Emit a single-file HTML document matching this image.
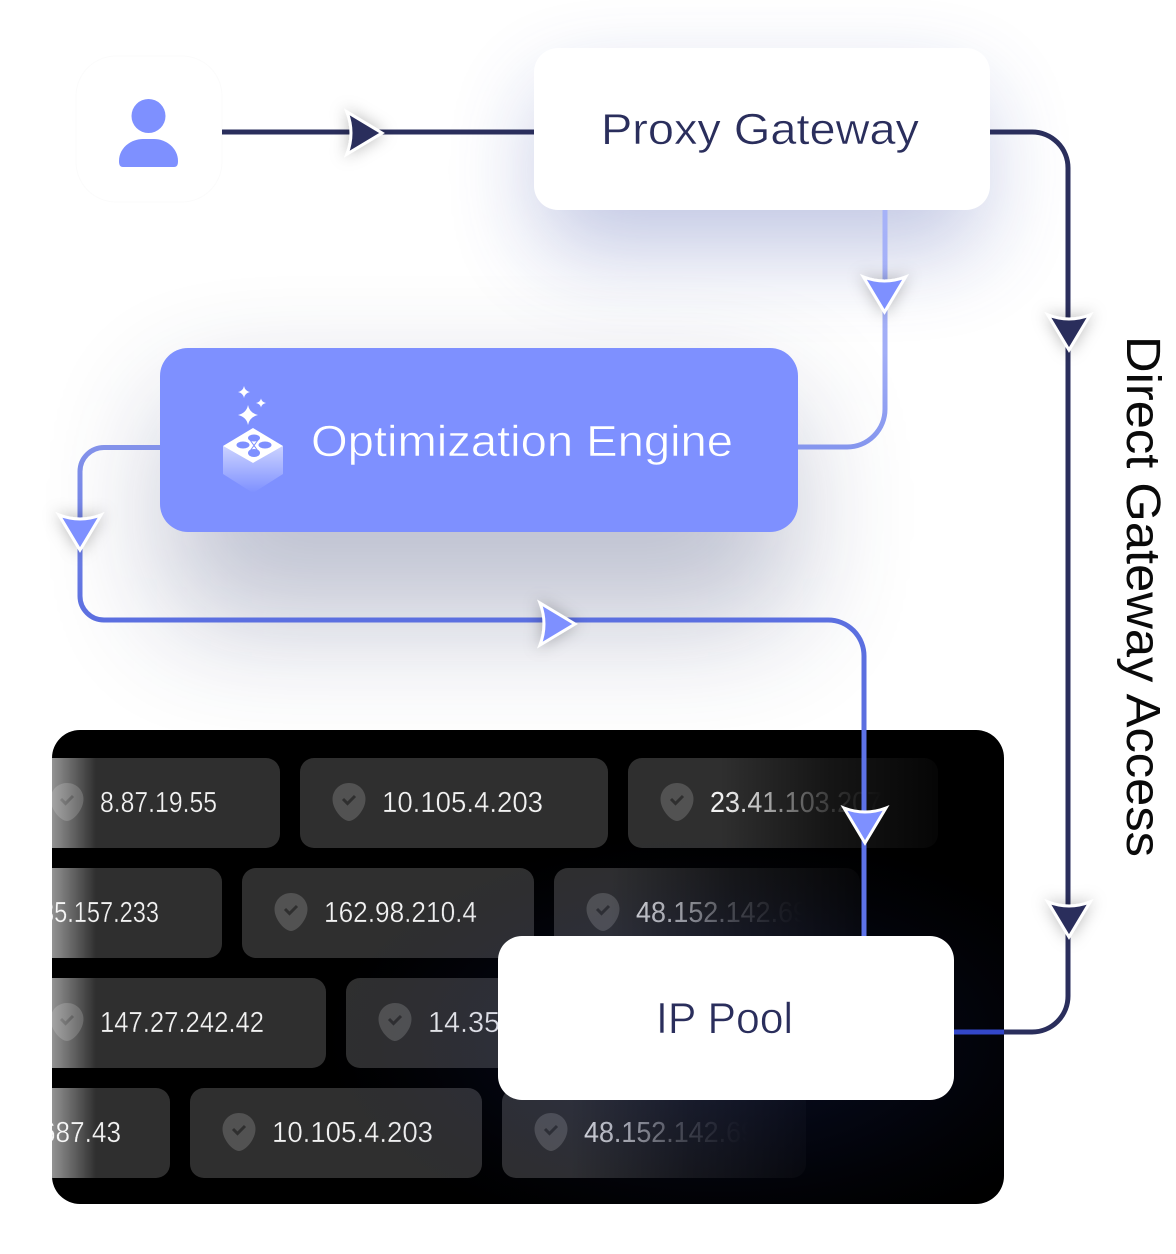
<!DOCTYPE html>
<html><head><meta charset="utf-8"><style>
html,body{margin:0;padding:0;background:#fff;width:1176px;height:1254px;overflow:hidden}
svg{display:block}
text{font-family:"Liberation Sans",sans-serif}
.chip{font-size:29px;fill:#f2f2f2}
.thin{stroke:#2f2f2f;stroke-width:.35}
</style></head><body>
<svg width="1176" height="1254" viewBox="0 0 1176 1254" xmlns="http://www.w3.org/2000/svg">
<defs>
<filter id="b1" x="-60%" y="-150%" width="220%" height="400%"><feGaussianBlur stdDeviation="46"/></filter>
<filter id="b2" x="-60%" y="-150%" width="220%" height="400%"><feGaussianBlur stdDeviation="62"/></filter>
<filter id="as" x="-100%" y="-100%" width="300%" height="300%"><feDropShadow dx="0" dy="0" stdDeviation="8" flood-color="#000" flood-opacity=".28"/></filter>
<clipPath id="panel"><rect x="52" y="730" width="952" height="474" rx="28"/></clipPath>
<linearGradient id="fadeL"><stop offset="0" stop-color="#fff" stop-opacity=".48"/><stop offset="1" stop-color="#fff" stop-opacity="0"/></linearGradient>
<linearGradient id="fadeR"><stop offset="0" stop-color="#000" stop-opacity="0"/><stop offset=".5" stop-color="#000" stop-opacity=".55"/><stop offset="1" stop-color="#000" stop-opacity=".88"/></linearGradient>
<linearGradient id="t1" gradientUnits="userSpaceOnUse" x1="755" y1="0" x2="885" y2="0"><stop offset="0" stop-color="#f2f2f2"/><stop offset="1" stop-color="#f2f2f2" stop-opacity="0"/></linearGradient>
<linearGradient id="t2" gradientUnits="userSpaceOnUse" x1="685" y1="0" x2="803" y2="0"><stop offset="0" stop-color="#f2f2f2"/><stop offset="1" stop-color="#f2f2f2" stop-opacity="0"/></linearGradient>
<linearGradient id="t4" gradientUnits="userSpaceOnUse" x1="630" y1="0" x2="748" y2="0"><stop offset="0" stop-color="#f2f2f2"/><stop offset="1" stop-color="#f2f2f2" stop-opacity="0"/></linearGradient>
<linearGradient id="lil" gradientUnits="userSpaceOnUse" x1="0" y1="210" x2="0" y2="447"><stop offset="0" stop-color="#a6b2f8"/><stop offset=".6" stop-color="#a2aef7"/><stop offset="1" stop-color="#8596ee"/></linearGradient>
<linearGradient id="lef" gradientUnits="userSpaceOnUse" x1="0" y1="447" x2="0" y2="620"><stop offset="0" stop-color="#8392ea"/><stop offset="1" stop-color="#5b6fe0"/></linearGradient>
<linearGradient id="cube" x1="0" y1="0" x2="0" y2="1"><stop offset="0" stop-color="#fff" stop-opacity=".6"/><stop offset="1" stop-color="#fff" stop-opacity="0"/></linearGradient>
<radialGradient id="glow"><stop offset="0" stop-color="#3048b0" stop-opacity=".24"/><stop offset=".6" stop-color="#1c2c80" stop-opacity=".1"/><stop offset="1" stop-color="#101840" stop-opacity="0"/></radialGradient>
<g id="sh"><path d="M0,-19C10,-19 16.5,-11 16.5,-3C16.5,8 6,19 0,19C-6,19 -16.5,8 -16.5,-3C-16.5,-11 -10,-19 0,-19Z" fill="#525252"/><path d="M-6,-3L-1.5,1.5L6,-6" fill="none" stroke="#2f2f2f" stroke-width="3"/></g>
<path id="arr" d="M0,-3L-21,-38Q0,-30 21,-38Z" stroke="#fff" stroke-width="3" stroke-miterlimit="12"/>
</defs>

<rect x="540" y="90" width="440" height="160" rx="30" fill="#3d4fa8" opacity=".32" filter="url(#b1)"/>
<rect x="170" y="400" width="620" height="220" rx="30" fill="#2c3468" opacity=".3" filter="url(#b2)"/>

<!-- user card -->
<rect x="76" y="56" width="146" height="146" rx="40" fill="#fff" stroke="#fbfbfb"/>
<circle cx="148.500" cy="116" r="17" fill="#7e90ff"/>
<path d="M119,161C119,148 131,139 143,139H154C166,139 178,148 178,161C178,165 177,167 174,167H123C120,167 119,165 119,161Z" fill="#7e90ff"/>

<!-- dark panel -->
<rect x="52" y="730" width="952" height="474" rx="28" fill="#000"/>
<g clip-path="url(#panel)">
<g fill="#2f2f2f">
<rect x="20" y="758" width="260" height="90" rx="14"/>
<rect x="300" y="758" width="308" height="90" rx="14"/>
<rect x="628" y="758" width="310" height="90" rx="14"/>
<rect x="0" y="868" width="222" height="90" rx="14"/>
<rect x="242" y="868" width="292" height="90" rx="14"/>
<rect x="554" y="868" width="306" height="90" rx="14"/>
<rect x="0" y="978" width="326" height="90" rx="14"/>
<rect x="346" y="978" width="300" height="90" rx="14"/>
<rect x="0" y="1088" width="170" height="90" rx="14"/>
<rect x="190" y="1088" width="292" height="90" rx="14"/>
<rect x="502" y="1088" width="304" height="90" rx="14"/>
</g>
<use href="#sh" x="67" y="802"/><use href="#sh" x="349" y="802"/><use href="#sh" x="677" y="802"/>
<use href="#sh" x="291" y="912"/><use href="#sh" x="603" y="912"/>
<use href="#sh" x="67" y="1022"/><use href="#sh" x="395" y="1022"/>
<use href="#sh" x="239" y="1132"/><use href="#sh" x="551" y="1132"/>
<text class="chip thin" x="100" y="812" textLength="117" lengthAdjust="spacingAndGlyphs">8.87.19.55</text>
<text class="chip thin" x="382" y="812" textLength="161" lengthAdjust="spacingAndGlyphs">10.105.4.203</text>
<text class="chip" style="fill:url(#t1)" x="710" y="812" textLength="172" lengthAdjust="spacingAndGlyphs">23.41.103.207</text>
<text class="chip thin" x="41" y="922" textLength="118" lengthAdjust="spacingAndGlyphs">35.157.233</text>
<text class="chip thin" x="324" y="922" textLength="153" lengthAdjust="spacingAndGlyphs">162.98.210.4</text>
<text class="chip" style="fill:url(#t2)" x="636" y="922" textLength="172" lengthAdjust="spacingAndGlyphs">48.152.142.69</text>
<text class="chip thin" x="100" y="1032" textLength="164" lengthAdjust="spacingAndGlyphs">147.27.242.42</text>
<text class="chip thin" x="428" y="1032" textLength="168" lengthAdjust="spacingAndGlyphs">14.35.120.87</text>
<text class="chip thin" x="41" y="1142" textLength="80" lengthAdjust="spacingAndGlyphs">687.43</text>
<text class="chip thin" x="272" y="1142" textLength="161" lengthAdjust="spacingAndGlyphs">10.105.4.203</text>
<text class="chip" style="fill:url(#t4)" x="584" y="1142" textLength="172" lengthAdjust="spacingAndGlyphs">48.152.142.69</text>
<rect x="52" y="758" width="44" height="90" fill="url(#fadeL)"/>
<rect x="52" y="868" width="44" height="90" fill="url(#fadeL)"/>
<rect x="52" y="978" width="44" height="90" fill="url(#fadeL)"/>
<rect x="52" y="1088" width="44" height="90" fill="url(#fadeL)"/>
<rect x="720" y="758" width="218" height="90" fill="url(#fadeR)"/>
<rect x="610" y="868" width="250" height="90" fill="url(#fadeR)"/>
<rect x="570" y="1088" width="236" height="90" fill="url(#fadeR)"/>
<ellipse cx="720" cy="1040" rx="400" ry="210" fill="url(#glow)"/>
</g>

<!-- connectors -->
<g fill="none" stroke-width="5">
<path d="M222,132H534" stroke="#2a2e5c"/>
<path d="M990,132H1032A36,36 0 0 1 1068,168V996A36,36 0 0 1 1032,1032H1004" stroke="#2a2e5c"/>
<path d="M1004,1032H954" stroke="#3347c9"/>
<path d="M885,210V409A38,38 0 0 1 847,447H798" stroke="url(#lil)"/>
<path d="M160,447.500H104A24,24 0 0 0 80,471.500V596A24,24 0 0 0 104,620H828A36,36 0 0 1 864,656V936" stroke="url(#lef)"/>
<path d="M864,730V936" stroke="#5d72e8"/>
</g>

<!-- nodes -->
<rect x="534" y="48" width="456" height="162" rx="24" fill="#fff"/>
<rect x="160" y="348" width="638" height="184" rx="28" fill="#7e90ff"/>
<rect x="498" y="936" width="456" height="164" rx="24" fill="#fff"/>

<text x="601" y="144" font-size="44" fill="#2a2e5c" stroke="#fff" stroke-width=".5" textLength="318" lengthAdjust="spacingAndGlyphs">Proxy Gateway</text>
<text x="311" y="456" font-size="44" fill="#fff" stroke="#7e90ff" stroke-width=".6" textLength="422" lengthAdjust="spacingAndGlyphs">Optimization Engine</text>
<text x="656" y="1033" font-size="44" fill="#2a2e5c" stroke="#fff" stroke-width=".6" textLength="137" lengthAdjust="spacingAndGlyphs">IP Pool</text>
<text transform="translate(1127,336) rotate(90)" font-size="48" fill="#0a0a0a" textLength="521" lengthAdjust="spacingAndGlyphs">Direct Gateway Access</text>

<!-- cube icon -->
<path d="M223,446L253,463L283,446V474L253,493L223,474Z" fill="url(#cube)"/>
<path d="M253,428L283,446L253,463L223,446Z" fill="#fff"/>
<g fill="#7e90ff">
<ellipse cx="254" cy="438" rx="6" ry="3.500"/><ellipse cx="254" cy="453" rx="6" ry="4"/>
<ellipse cx="243" cy="445" rx="6.500" ry="3.500"/><ellipse cx="265" cy="445" rx="6.500" ry="3.500"/>
<path d="M250,440L258,451M258,440L250,451" stroke="#7e90ff" stroke-width="1"/>
</g>
<g fill="#fff">
<path d="M248,405Q249.500,413 258,415Q249.500,417 248,425Q246.500,417 238,415Q246.500,413 248,405Z"/>
<path d="M244,386Q245,391 250,392Q245,393 244,398Q243,393 238,392Q243,391 244,386Z"/>
<path d="M261,398.500Q261.800,402.200 266,403Q261.800,403.800 261,407.500Q260.200,403.800 256,403Q260.200,402.200 261,398.500Z"/>
</g>

<!-- arrowheads -->
<g filter="url(#as)" fill="#2a2e5c"><use href="#arr" transform="translate(385,133) rotate(-90)"/></g>
<g filter="url(#as)" fill="#7e90ff"><use href="#arr" transform="translate(884.500,315)"/></g>
<g filter="url(#as)" fill="#2a2e5c"><use href="#arr" transform="translate(1069,353)"/></g>
<g filter="url(#as)" fill="#7e90ff"><use href="#arr" transform="translate(80,553)"/></g>
<g filter="url(#as)" fill="#7e90ff"><use href="#arr" transform="translate(578,624) rotate(-90)"/></g>
<g fill="#7e90ff"><use href="#arr" transform="translate(865,846)"/></g>
<g filter="url(#as)" fill="#2a2e5c"><use href="#arr" transform="translate(1069,940)"/></g>
</svg>
</body></html>
